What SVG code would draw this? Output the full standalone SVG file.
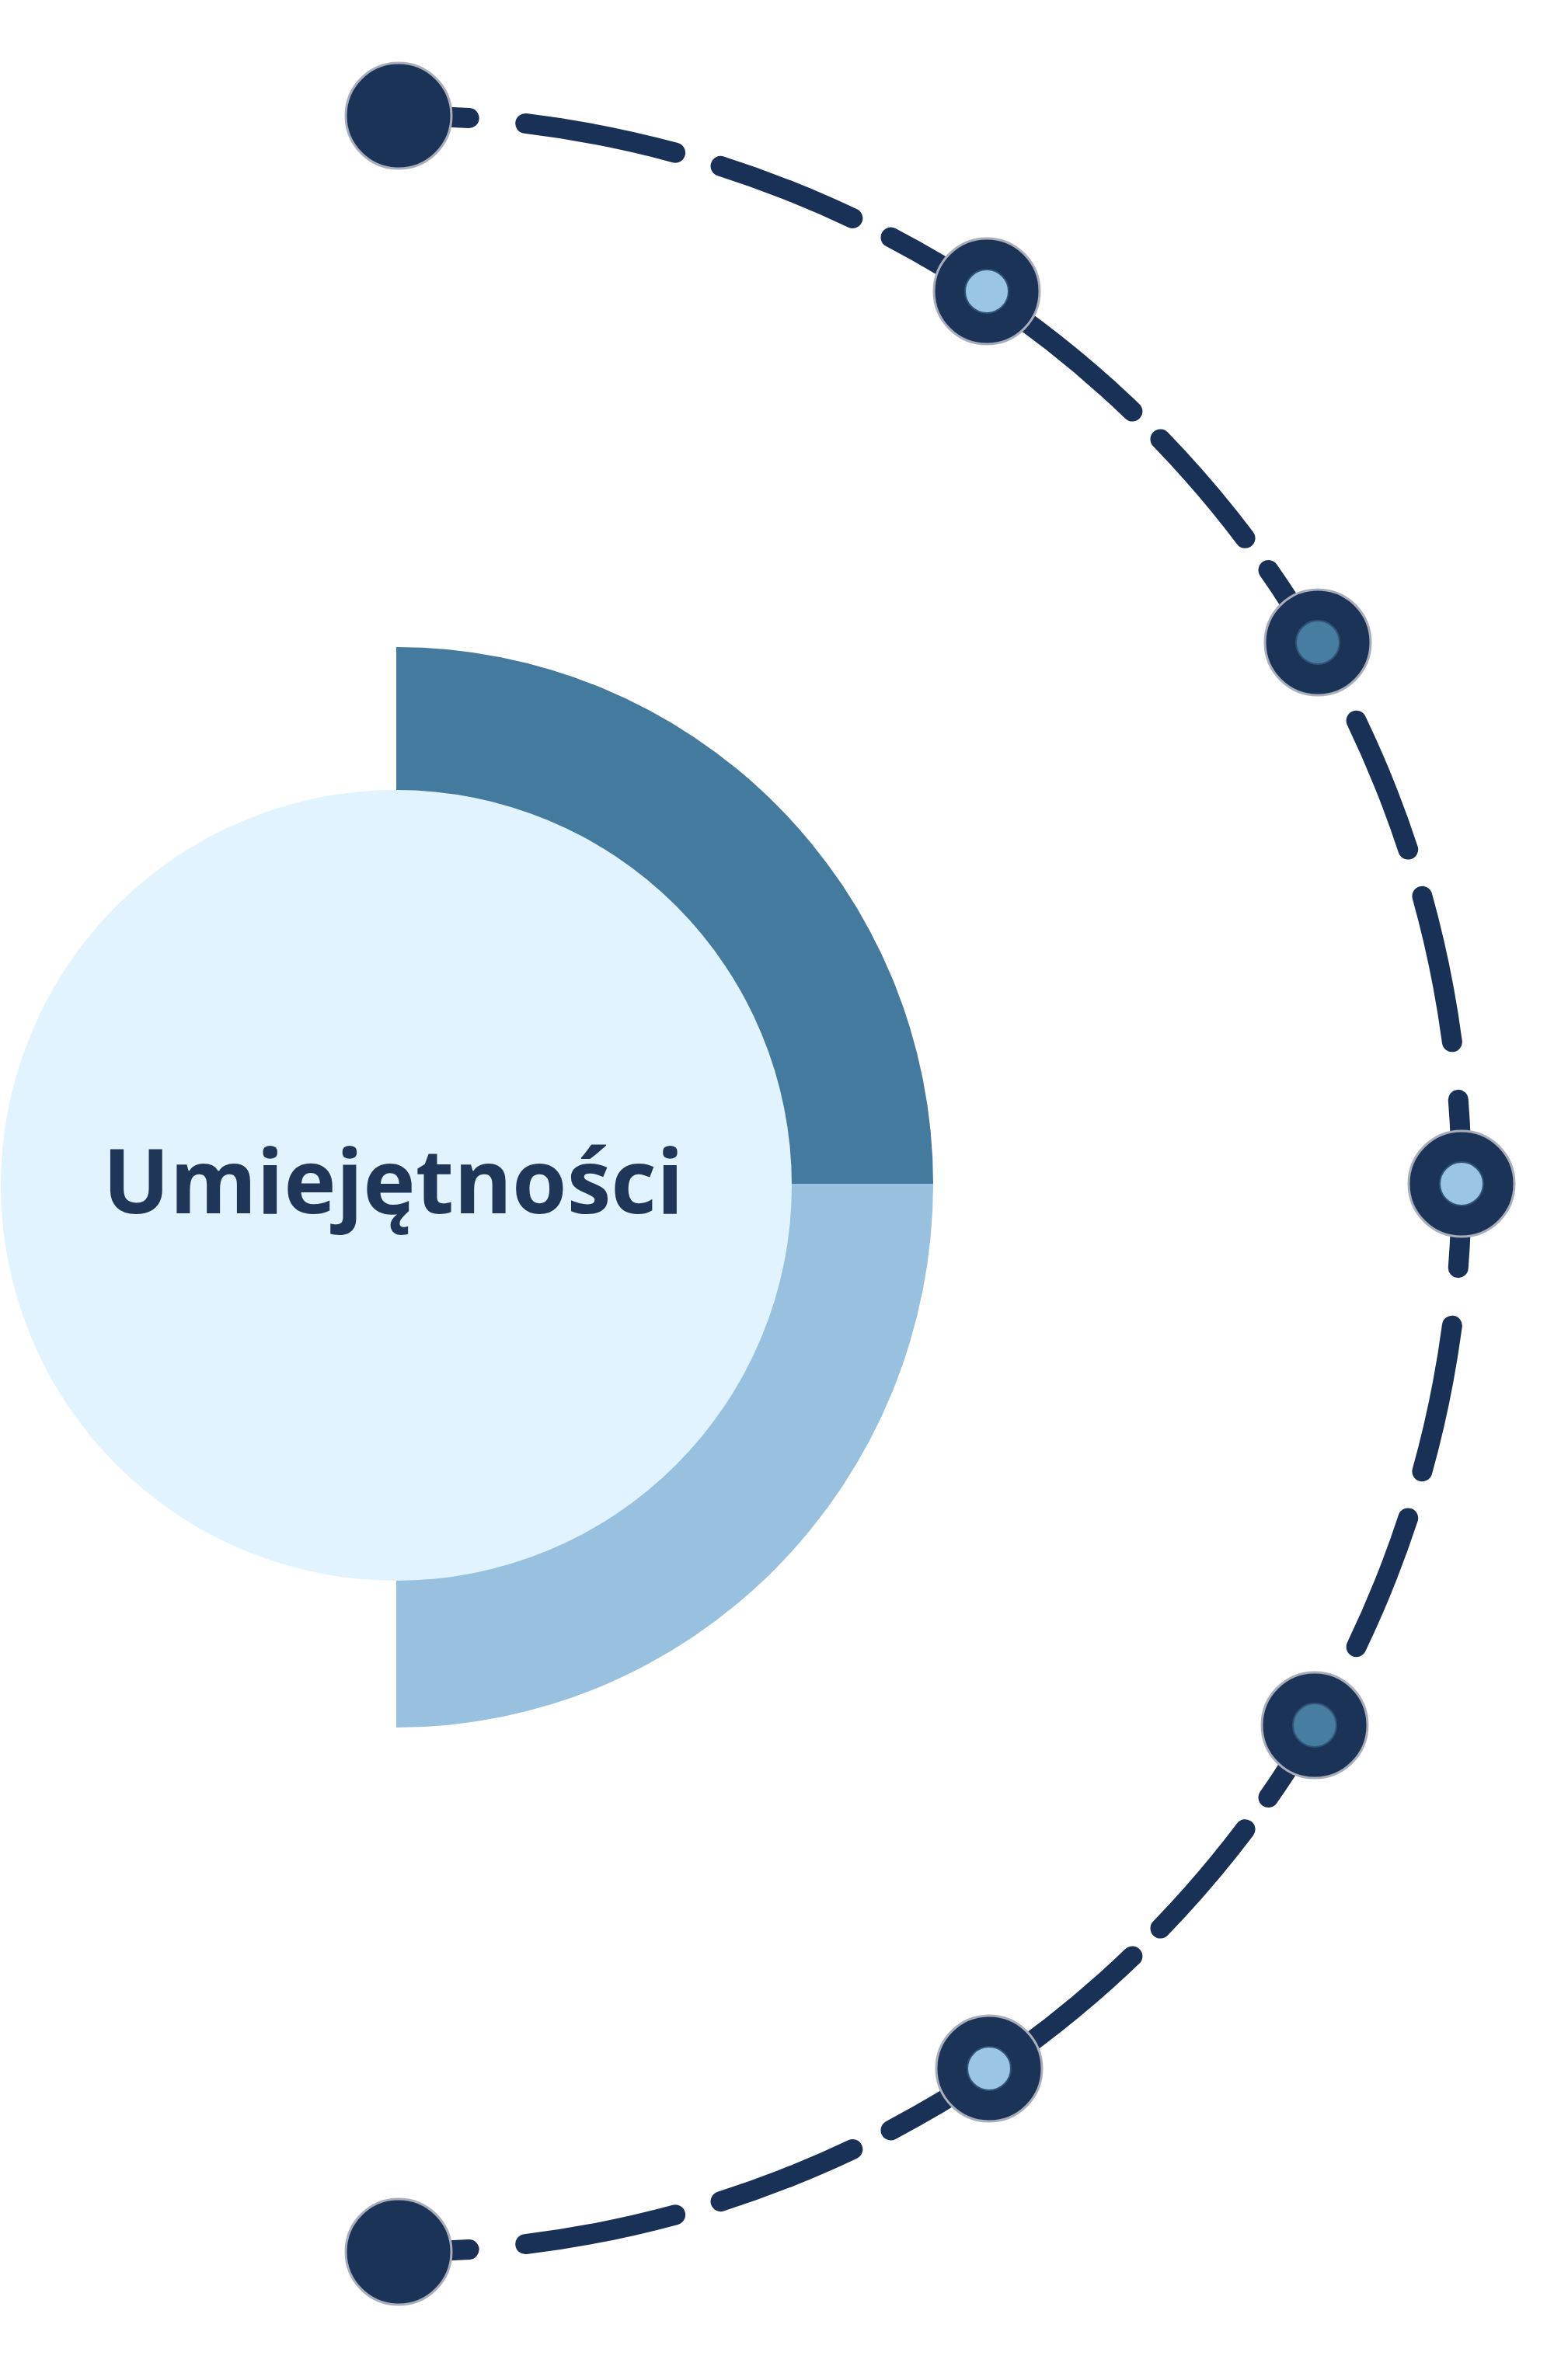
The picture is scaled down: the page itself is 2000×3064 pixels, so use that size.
<svg xmlns="http://www.w3.org/2000/svg" width="2000" height="3064" viewBox="0 0 2000 3064">
  <style>
    .node-outer { fill: #1c3358; stroke: #a9aebb; stroke-width: 3; }
    .inner-light { fill: #9ac5e4; stroke: #2f5478; stroke-width: 2; }
    .inner-mid { fill: #467da1; stroke: #2f5478; stroke-width: 2; }
    .dash { fill: none; stroke: #1a3157; stroke-width: 26; stroke-linecap: round; }
    .label { font-family: "Open Sans", "Noto Sans", "DejaVu Sans", sans-serif; font-weight: 700; font-size: 114px; fill: #1f3659; }
  </style>
  <rect x="0" y="0" width="2000" height="3064" fill="#ffffff"/>

  <g id="center-hub">
    <path d="M 510 1524 L 510 833 A 691 691 0 0 1 1201 1524 Z" fill="#437a9e"/>
    <path d="M 510 1524 L 1201 1524 A 691 700 0 0 1 510 2224 Z" fill="#97c1df"/>
    <circle cx="510" cy="1526" r="509" fill="#e0f3fe"/>
    <text class="label" x="506" y="1562" text-anchor="middle">Umiejętności</text>
  </g>

  <g id="connectors">
    <path class="dash" pathLength="4317"
      stroke-dasharray="92 73 197 61 183 55 385 51 168 51 116 109 179 63 192 75 217 75 192 63 179 109 116 51 168 51 385 55 183 61 197 73 92 200"
      d="M 512 149 A 1369 1375 0 0 1 1881 1524 A 1369 1375 0 0 1 512 2899"/>
  </g>

  <g id="node-start">
    <circle class="node-outer" cx="513" cy="149" r="68"/>
  </g>
  <g id="node-1">
    <circle class="node-outer" cx="1270" cy="375" r="68"/>
    <circle class="inner-light" cx="1270" cy="375" r="28"/>
  </g>
  <g id="node-2">
    <circle class="node-outer" cx="1696" cy="827" r="68"/>
    <circle class="inner-mid" cx="1696" cy="827" r="28"/>
  </g>
  <g id="node-3">
    <circle class="node-outer" cx="1881" cy="1524" r="68"/>
    <circle class="inner-light" cx="1881" cy="1524" r="28"/>
  </g>
  <g id="node-4">
    <circle class="node-outer" cx="1692" cy="2221" r="68"/>
    <circle class="inner-mid" cx="1692" cy="2221" r="28"/>
  </g>
  <g id="node-5">
    <circle class="node-outer" cx="1273" cy="2663" r="68"/>
    <circle class="inner-light" cx="1273" cy="2663" r="28"/>
  </g>
  <g id="node-end">
    <circle class="node-outer" cx="513" cy="2899" r="68"/>
  </g>
</svg>
